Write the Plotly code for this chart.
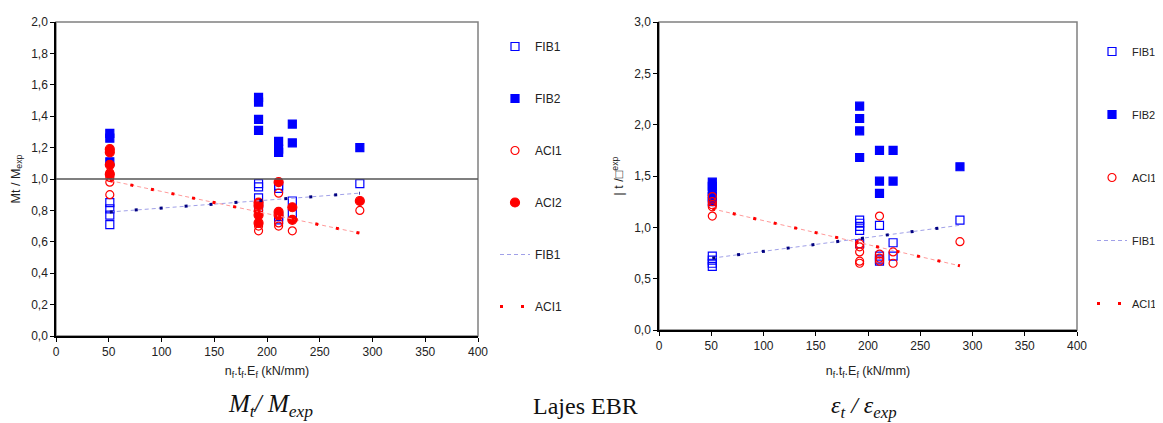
import plotly.graph_objects as go

# ---------------- data ----------------
# Left chart: Mt / Mexp
L_fib1_x = [51, 51, 51, 51, 192, 192, 192, 192, 211, 211, 211, 211, 224, 224, 288]
L_fib1_y = [0.85, 0.81, 0.77, 0.71, 0.97, 0.95, 0.88, 0.82, 0.96, 0.94, 0.76, 0.74, 0.86, 0.78, 0.97]
L_fib2_x = [51, 51, 51, 192, 192, 192, 192, 211, 211, 211, 224, 224, 288]
L_fib2_y = [1.29, 1.26, 1.11, 1.52, 1.49, 1.38, 1.31, 1.24, 1.19, 1.17, 1.35, 1.23, 1.20]
L_aci1_x = [51, 51, 51, 51, 192, 192, 192, 211, 211, 211, 224, 288]
L_aci1_y = [1.04, 1.01, 0.98, 0.90, 0.80, 0.70, 0.67, 0.91, 0.72, 0.70, 0.67, 0.80]
L_aci2_x = [51, 51, 51, 51, 192, 192, 192, 192, 211, 211, 211, 224, 224, 288]
L_aci2_y = [1.19, 1.17, 1.09, 1.03, 0.85, 0.83, 0.77, 0.72, 0.98, 0.79, 0.77, 0.82, 0.74, 0.86]
L_trend_x = [51, 288]
L_fib1_trend = [0.79, 0.91]
L_aci1_trend = [0.99, 0.655]

# Right chart: eps_t / eps_exp
R_fib1_x = [51, 51, 51, 51, 192, 192, 192, 192, 192, 211, 211, 211, 211, 224, 224, 288]
R_fib1_y = [0.72, 0.68, 0.65, 0.62, 1.07, 1.04, 1.01, 0.97, 0.84, 1.02, 0.72, 0.69, 0.67, 0.85, 0.72, 1.07]
R_fib2_x = [51, 51, 51, 51, 51, 192, 192, 192, 192, 211, 211, 211, 224, 224, 288]
R_fib2_y = [1.44, 1.40, 1.35, 1.30, 1.25, 2.18, 2.06, 1.94, 1.68, 1.75, 1.45, 1.33, 1.75, 1.45, 1.59]
R_aci1_x = [51, 51, 51, 51, 51, 192, 192, 192, 192, 192, 211, 211, 211, 211, 224, 224, 288]
R_aci1_y = [1.30, 1.25, 1.22, 1.20, 1.11, 0.84, 0.81, 0.76, 0.67, 0.65, 1.11, 0.74, 0.70, 0.67, 0.76, 0.65, 0.86]
R_trend_x = [51, 288]
R_fib1_trend = [0.70, 1.02]
R_aci1_trend = [1.18, 0.625]

x_ticks = [0, 50, 100, 150, 200, 250, 300, 350, 400]

# ---------------- figure ----------------
# The page body has an 8px default margin, so the figure is drawn 8px smaller
# and all placements below are given in window pixels, then shifted by 8.
OFF = 8
W, H = 1163 - OFF, 423 - OFF
BLUE = "#0000ff"
RED = "#ff0000"
FONT = "Liberation Sans"

fig = go.Figure()


def add_points(x, y, name, symbol, color, size, xa, ya, leg, group):
    fig.add_trace(go.Scatter(
        x=x, y=y, mode="markers", name=name, xaxis=xa, yaxis=ya, legend=leg,
        legendgroup=group,
        marker=dict(symbol=symbol, color=color, size=size,
                    line=dict(color=color, width=1.2)),
    ))


def add_trend(x, y, name, base_color, dot_color, dot_dash, xa, ya, leg, group, legend_on_dots):
    fig.add_trace(go.Scatter(
        x=x, y=y, mode="lines", name=name, xaxis=xa, yaxis=ya, legend=leg,
        legendgroup=group, showlegend=not legend_on_dots,
        line=dict(color=base_color, width=1, dash="4px,3px"),
    ))
    fig.add_trace(go.Scatter(
        x=x, y=y, mode="lines", name=name, xaxis=xa, yaxis=ya, legend=leg,
        legendgroup=group, showlegend=legend_on_dots,
        line=dict(color=dot_color, width=3, dash=dot_dash),
    ))


# left chart
add_points(L_fib1_x, L_fib1_y, "FIB1", "square-open", BLUE, 8, "x", "y", "legend", "l1")
add_points(L_fib2_x, L_fib2_y, "FIB2", "square", BLUE, 8, "x", "y", "legend", "l2")
add_points(L_aci1_x, L_aci1_y, "ACI1", "circle-open", RED, 8, "x", "y", "legend", "l3")
add_points(L_aci2_x, L_aci2_y, "ACI2", "circle", RED, 9, "x", "y", "legend", "l4")
add_trend(L_trend_x, L_fib1_trend, "FIB1", "#a0a0e8", "#000080", "3px,22px", "x", "y", "legend", "l5", False)
add_trend(L_trend_x, L_aci1_trend, "ACI1", "#ff9a9a", RED, "3px,18px", "x", "y", "legend", "l6", True)

# right chart
add_points(R_fib1_x, R_fib1_y, "FIB1", "square-open", BLUE, 8, "x2", "y2", "legend2", "r1")
add_points(R_fib2_x, R_fib2_y, "FIB2", "square", BLUE, 8, "x2", "y2", "legend2", "r2")
add_points(R_aci1_x, R_aci1_y, "ACI1", "circle-open", RED, 8, "x2", "y2", "legend2", "r3")
add_trend(R_trend_x, R_fib1_trend, "FIB1", "#a0a0e8", "#000080", "3px,22px", "x2", "y2", "legend2", "r4", False)
add_trend(R_trend_x, R_aci1_trend, "ACI1", "#ff9a9a", RED, "3px,18px", "x2", "y2", "legend2", "r5", True)


def px_x(p):
    return (p - OFF) / W


def px_y(p):
    return 1 - (p - OFF) / H


tick_font = dict(family=FONT, size=12, color="#222222")
title_font = dict(family=FONT, size=12.5, color="#222222")

common_x = dict(range=[0, 400], tickvals=x_ticks, ticks="outside", ticklen=4,
                tickcolor="#000", showline=True, linecolor="#000", linewidth=1.5,
                showgrid=False, zeroline=False, tickfont=tick_font, title_font=title_font,
                automargin=False)
common_y = dict(ticks="outside", ticklen=4, tickcolor="#000", showline=True,
                linecolor="#000", linewidth=1.5, showgrid=False, zeroline=False,
                tickfont=tick_font, title_font=title_font, tickformat=".1f",
                automargin=False)

fig.update_layout(
    width=W, height=H,
    margin=dict(l=0, r=0, t=0, b=0, autoexpand=False),
    paper_bgcolor="white", plot_bgcolor="white",
    separators=",.",
    font=dict(family=FONT, color="#222222"),
    xaxis=dict(domain=[px_x(56), px_x(478)], anchor="y",
               title=dict(text="n<sub>f</sub>.t<sub>f</sub>.E<sub>f</sub> (kN/mm)", standoff=8), **common_x),
    yaxis=dict(domain=[px_y(336), px_y(22)], anchor="x", range=[0, 2], dtick=0.2,
               title=dict(text="Mt / M<sub>exp</sub>", standoff=8), **common_y),
    xaxis2=dict(domain=[px_x(659), px_x(1077)], anchor="y2",
                title=dict(text="n<sub>f</sub>.t<sub>f</sub>.E<sub>f</sub> (kN/mm)", standoff=14), **common_x),
    yaxis2=dict(domain=[px_y(330), px_y(22)], anchor="x2", range=[0, 3], dtick=0.5,
                title=dict(text="| t /□<sup>exp</sup>", standoff=8), **common_y),
    legend=dict(x=px_x(495), y=px_y(32), xanchor="left", yanchor="top",
                font=dict(family=FONT, size=12, color="#222222"),
                tracegroupgap=33, bgcolor="rgba(0,0,0,0)"),
    legend2=dict(x=px_x(1092), y=px_y(37), xanchor="left", yanchor="top",
                 font=dict(family=FONT, size=11, color="#222222"),
                 tracegroupgap=44, bgcolor="rgba(0,0,0,0)"),
    showlegend=True,
)

# plot-area frames (grey top/right borders)
for xr, yr in [("x domain", "y domain"), ("x2 domain", "y2 domain")]:
    fig.add_shape(type="rect", xref=xr, yref=yr, x0=0, x1=1, y0=0, y1=1,
                  line=dict(color="#808080", width=1.5), layer="below")

# reference line at 1,0 on the left chart
fig.add_shape(type="line", xref="x domain", yref="y", x0=0, x1=1, y0=1, y1=1,
              line=dict(color="#555555", width=1.5))

# captions under the charts
serif = "Liberation Serif"
fig.add_annotation(x=px_x(270), y=px_y(405), xref="paper", yref="paper",
                   xanchor="center", yanchor="middle",
                   text="<i>M<sub>t</sub>/ M<sub>exp</sub></i>", showarrow=False,
                   font=dict(family=serif, size=25, color="#111"))
fig.add_annotation(x=px_x(585), y=px_y(406), xref="paper", yref="paper",
                   xanchor="center", yanchor="middle",
                   text="Lajes EBR", showarrow=False,
                   font=dict(family=serif, size=24, color="#111"))
fig.add_annotation(x=px_x(864), y=px_y(407), xref="paper", yref="paper",
                   xanchor="center", yanchor="middle",
                   text="<i>ε<sub>t</sub> / ε<sub>exp</sub></i>", showarrow=False,
                   font=dict(family=serif, size=24, color="#111"))

fig.write_html("out.html")
